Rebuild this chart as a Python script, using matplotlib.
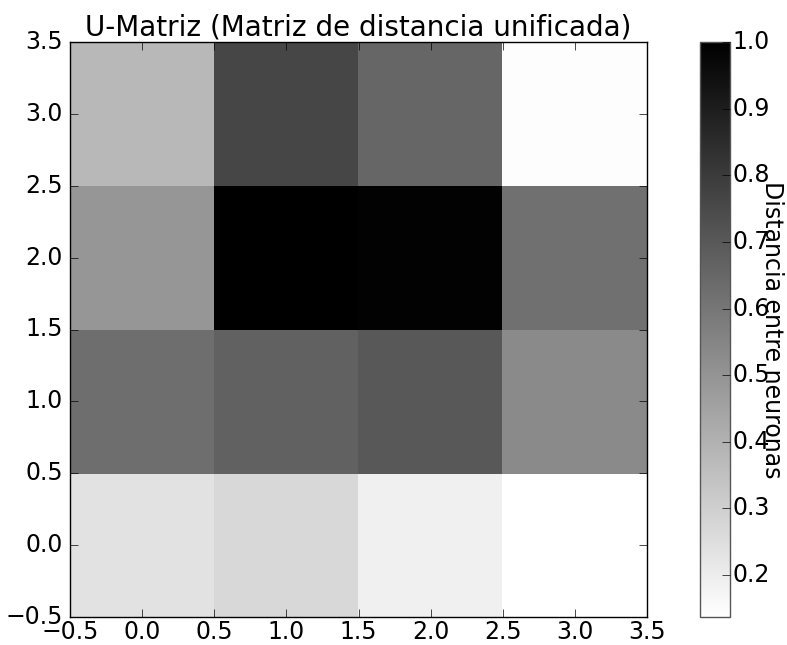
import numpy as np
import matplotlib
matplotlib.use("Agg")
import matplotlib.pyplot as plt

plt.style.use("classic")

# U-matrix values, row 0 = y=0 (bottom)
row_y0 = [0.235, 0.269, 0.188, 0.137]
row_y1 = [0.628, 0.668, 0.702, 0.533]
row_y2 = [0.492, 1.000, 0.988, 0.621]
row_y3 = [0.377, 0.763, 0.655, 0.147]
umatrix = np.array([row_y0, row_y1, row_y2, row_y3])

ticks = [-0.5, 0.0, 0.5, 1.0, 1.5, 2.0, 2.5, 3.0, 3.5]
cbar_ticks = [0.2, 0.3, 0.4, 0.5, 0.6, 0.7, 0.8, 0.9, 1.0]

W, H = 787, 645
fig = plt.figure(figsize=(W / 100, H / 100), dpi=100, facecolor="white")
ax = fig.add_axes([70 / W, 28 / H, 577 / W, 575 / H])
cax = fig.add_axes([700 / W, 28 / H, 30 / W, 575 / H])

im = ax.imshow(umatrix, cmap="gray_r", origin="lower", interpolation="nearest",
               aspect="auto")
ax.set_xticks(ticks)
ax.set_yticks(ticks)
ax.set_xlim(-0.5, 3.5)
ax.set_ylim(-0.5, 3.5)
ax.tick_params(labelsize=17, length=6, pad=5)
ax.tick_params(axis="x", pad=2)
ax.set_title("U-Matriz (Matriz de distancia unificada)", fontsize=20, y=1.0)

cbar = fig.colorbar(im, cax=cax, ticks=cbar_ticks)
cbar.ax.tick_params(labelsize=17, length=6, pad=2)
cbar.outline.set_edgecolor("#555555")
cax.text(2.4, 0.5, "Distancia entre neuronas", rotation=270, fontsize=17,
         ha="center", va="center", transform=cax.transAxes)

fig.savefig("out.png", dpi=100, facecolor="white")
